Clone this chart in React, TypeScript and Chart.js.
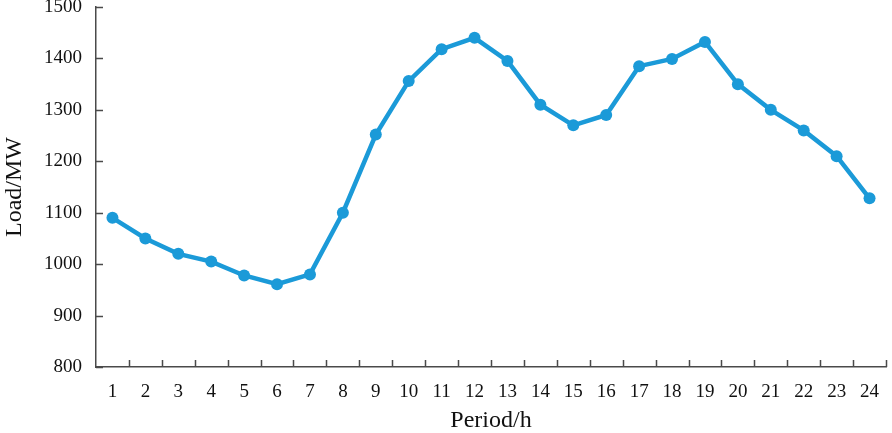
import React, { useEffect, useRef } from "react";
import { Chart, registerables } from "chart.js";

Chart.register(...registerables);

const periods = ["1","2","3","4","5","6","7","8","9","10","11","12","13","14","15","16","17","18","19","20","21","22","23","24"];
const load = [1090, 1050, 1020, 1005, 978, 961, 980, 1100, 1252, 1356, 1418, 1440, 1395, 1310, 1270, 1290, 1385, 1399, 1432, 1350, 1300, 1260, 1210, 1128];
const yMin = 800;
const yMax = 1500;
const yStep = 100;

const FONT = "'Liberation Serif', 'Times New Roman', serif";
const AXIS = "#4a4a4a";

const insideTicks = {
  id: "insideTicks",
  afterDraw(chart: any) {
    const ctx = chart.ctx;
    const x = chart.scales.x;
    const y = chart.scales.y;
    const area = chart.chartArea;
    ctx.save();
    ctx.strokeStyle = AXIS;
    ctx.lineWidth = 1.5;
    ctx.beginPath();
    for (let v = yMin; v <= yMax; v += yStep) {
      const py = Math.round(y.getPixelForValue(v)) + 0.5;
      ctx.moveTo(area.left, py);
      ctx.lineTo(area.left + 7, py);
    }
    const n = periods.length;
    const half = (x.getPixelForValue(1) - x.getPixelForValue(0)) / 2;
    for (let i = 0; i < n; i++) {
      const px = Math.round(x.getPixelForValue(i) + half) + 0.5;
      ctx.moveTo(px, area.bottom);
      ctx.lineTo(px, area.bottom - 7);
    }
    ctx.stroke();
    ctx.restore();
  },
};

export default function App() {
  const ref = useRef<HTMLCanvasElement | null>(null);
  useEffect(() => {
    document.body.style.margin = "0";
    const chart = new Chart(ref.current as HTMLCanvasElement, {
      type: "line",
      data: {
        labels: periods,
        datasets: [
          {
            data: load,
            borderColor: "#1b9ad8",
            backgroundColor: "#1b9ad8",
            borderWidth: 4.5,
            pointRadius: 6,
            pointHoverRadius: 6,
            pointBorderWidth: 0,
            tension: 0,
          },
        ],
      },
      options: {
        animation: false,
        responsive: false,
        maintainAspectRatio: false,
        layout: { padding: { top: 7, right: 3, left: 0, bottom: 0 } },
        plugins: { legend: { display: false }, tooltip: { enabled: false } },
        scales: {
          x: {
            offset: true,
            grid: { display: false, drawTicks: false },
            border: { display: true, color: AXIS, width: 1.5 },
            ticks: { color: "#111", font: { family: FONT, size: 19 }, padding: 14, maxRotation: 0, autoSkip: false },
            title: { display: true, text: "Period/h", color: "#111", font: { family: FONT, size: 24 }, padding: { top: 0, bottom: -2 } },
            afterFit: (s: any) => {
              s.height = 66;
              s.paddingLeft = 0;
              s.paddingRight = 0;
            },
          },
          y: {
            min: yMin,
            max: yMax,
            grid: { display: false, drawTicks: false },
            border: { display: true, color: AXIS, width: 1.5 },
            ticks: { stepSize: yStep, color: "#111", font: { family: FONT, size: 19 }, padding: 14, callback: (v: any) => String(v) },
            title: { display: true, text: "Load/MW", color: "#111", font: { family: FONT, size: 24 }, padding: { top: 0, bottom: 0 } },
            afterFit: (s: any) => {
              s.width = 96;
              s.paddingTop = 0;
              s.paddingBottom = 0;
            },
          },
        },
      },
      plugins: [insideTicks],
    });
    return () => chart.destroy();
  }, []);
  return (
    <div style={{ width: 892, height: 433 }}>
      <canvas ref={ref} width={892} height={433} style={{ width: 892, height: 433, display: "block" }} />
    </div>
  );
}
